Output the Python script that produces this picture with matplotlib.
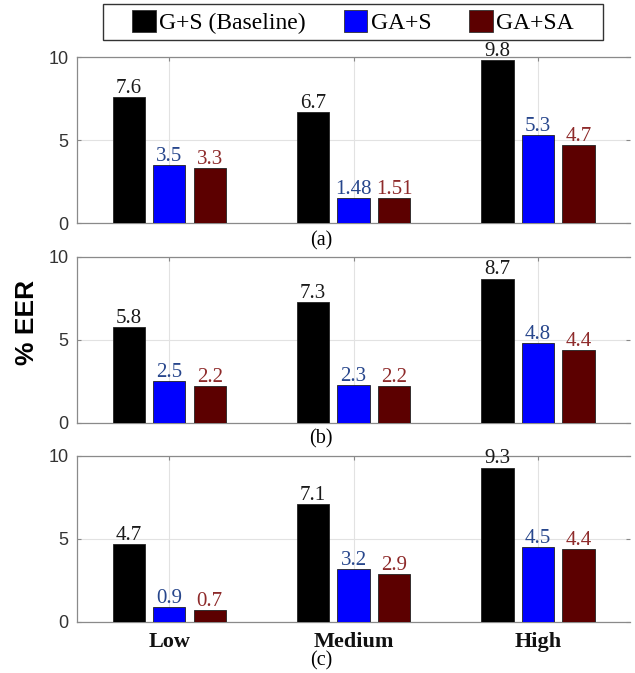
import matplotlib
matplotlib.use('Agg')
import matplotlib.pyplot as plt
import numpy as np
from matplotlib.patches import Patch, Rectangle

# data
categories = ['Low', 'Medium', 'High']
methods = ['G+S (Baseline)', 'GA+S', 'GA+SA']
panel_names = ['(a)', '(b)', '(c)']

baseline_a = [7.6, 6.7, 9.8]
gas_a = [3.5, 1.48, 5.3]
gasa_a = [3.3, 1.51, 4.7]

baseline_b = [5.8, 7.3, 8.7]
gas_b = [2.5, 2.3, 4.8]
gasa_b = [2.2, 2.2, 4.4]

baseline_c = [4.7, 7.1, 9.3]
gas_c = [0.9, 3.2, 4.5]
gasa_c = [0.7, 2.9, 4.4]

panels = [(baseline_a, gas_a, gasa_a),
          (baseline_b, gas_b, gasa_b),
          (baseline_c, gas_c, gasa_c)]

bar_colors = ['#000000', '#0000ff', '#5c0000']
text_colors = ['#1a1a1a', '#27468c', '#8e2a2a']

serif = 'Liberation Serif'
sans = 'Liberation Sans'

fig = plt.figure(figsize=(6.35, 6.73), dpi=100)

# axes boxes in figure fractions (left, bottom, width, height)
boxes = [(0.1213, 0.6686, 0.871, 0.2467),
         (0.1213, 0.3715, 0.871, 0.2467),
         (0.1213, 0.0758, 0.871, 0.2467)]
label_y = [0.642, 0.3477, 0.0178]

x = np.arange(1, len(categories) + 1)
width = 0.175
step = 0.22

for p, (vals, box) in enumerate(zip(panels, boxes)):
    ax = fig.add_axes(box)
    for k, series in enumerate(vals):
        pos = x + (k - 1) * step
        ax.bar(pos, series, width, color=bar_colors[k],
               edgecolor='#222222', linewidth=0.6, zorder=3)
        for xx, v in zip(pos, series):
            ax.annotate(f'{v:g}', (xx, v), xytext=(0, 3),
                        textcoords='offset points', ha='center',
                        va='baseline', fontsize=15, family=serif,
                        color=text_colors[k], annotation_clip=False)
    ax.set_xlim(0.5, 3.5)
    ax.set_ylim(0, 10)
    ax.set_yticks([0, 5, 10])
    ax.set_xticks(x)
    if p == 2:
        ax.set_xticklabels(categories, fontsize=16, fontweight='bold',
                           family=serif, color='#111111')
    else:
        ax.set_xticklabels([])
    for lab in ax.get_yticklabels():
        lab.set_family(sans)
        lab.set_fontsize(13)
        lab.set_color('#333333')
    ax.tick_params(axis='both', direction='in', length=3, color='#888888',
                   top=True, right=True)
    ax.tick_params(axis='y', pad=6)
    ax.tick_params(axis='x', pad=7)
    ax.grid(True, color='#e2e2e2', linewidth=0.8, zorder=0)
    ax.set_axisbelow(True)
    for side in ['left', 'bottom', 'top']:
        ax.spines[side].set_color('#8a8a8a')
        ax.spines[side].set_linewidth(0.9)
    ax.spines['right'].set_visible(False)
    fig.text(0.5055, label_y[p], panel_names[p], ha='center', va='center',
             fontsize=14.5, family=serif)

fig.text(0.042, 1 - 322 / 673, '% EER', rotation=90, ha='center', va='center',
         fontsize=19, fontweight='bold', family=sans)

handles = [Patch(facecolor=c, edgecolor='#333333', linewidth=0.6) for c in bar_colors]
leg = fig.legend(handles, methods, loc='center', bbox_to_anchor=(0.556, 0.967),
                 ncol=3, prop={'family': serif, 'size': 17},
                 handlelength=1.0, handleheight=1.0, handletextpad=0.15,
                 columnspacing=1.6, borderpad=0.25, frameon=False)

# legend frame, wider than the entries as in the original
fig.patches.append(Rectangle((103 / 635, 1 - 40 / 673), 500 / 635, 36 / 673,
                             transform=fig.transFigure, fill=False,
                             edgecolor='#333333', linewidth=1.0))

fig.savefig('out.png', dpi=100)
